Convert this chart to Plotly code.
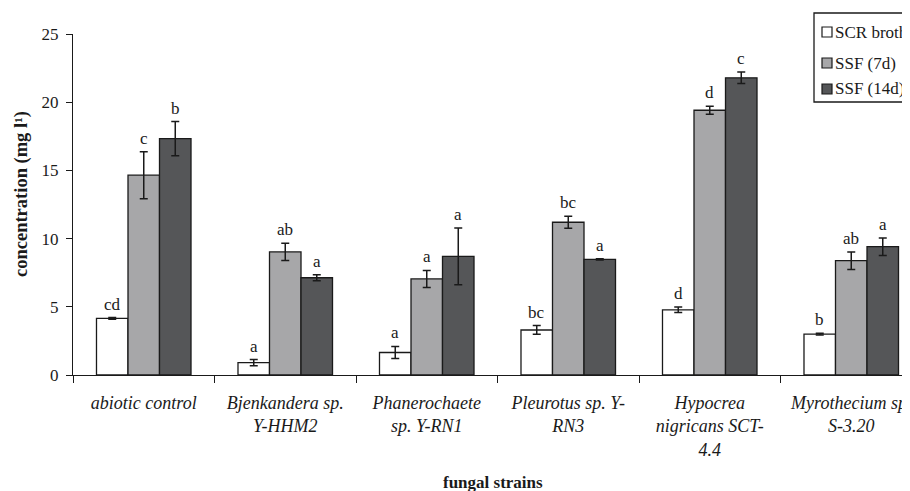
import plotly.graph_objects as go

categories = ["<i>abiotic control</i>", "<i>Bjenkandera sp.<br>Y-HHM2</i>", "<i>Phanerochaete<br>sp. Y-RN1</i>",
              "<i>Pleurotus sp. Y-<br>RN3</i>", "<i>Hypocrea<br>nigricans SCT-<br>4.4</i>", "<i>Myrothecium sp.<br>S-3.20</i>"]
series_names = ["SCR broth", "SSF (7d)", "SSF (14d)"]
scr_vals = [4.15, 0.9, 1.65, 3.3, 4.78, 3.0]
scr_err = [0.06, 0.23, 0.44, 0.32, 0.2, 0.06]
ssf7_vals = [14.65, 9.02, 7.04, 11.2, 19.41, 8.38]
ssf7_err = [1.72, 0.63, 0.63, 0.44, 0.3, 0.64]
ssf14_vals = [17.33, 7.13, 8.7, 8.48, 21.79, 9.41]
ssf14_err = [1.25, 0.22, 2.08, 0.05, 0.42, 0.64]
scr_letters = ["cd", "a", "a", "bc", "d", "b"]
ssf7_letters = ["c", "ab", "a", "bc", "d", "ab"]
ssf14_letters = ["b", "a", "a", "a", "c", "a"]
colors = ["#ffffff", "#a7a7a9", "#555658"]

FONT = "Liberation Serif"
INK = "#1a1a1a"
W, H = 910, 491
ML, MR, MT, MB = 65, 0, 26, 124
PW, PH = W - ML - MR, H - MT - MB


def px(x):  # figure pixel -> paper x
    return (x - ML) / PW


def py(y):  # figure pixel -> paper y
    return (H - MB - y) / PH


fig = go.Figure()
all_vals = [scr_vals, ssf7_vals, ssf14_vals]
all_errs = [scr_err, ssf7_err, ssf14_err]
all_letters = [scr_letters, ssf7_letters, ssf14_letters]
for name, vals, errs, col in zip(series_names, all_vals, all_errs, colors):
    fig.add_trace(go.Bar(
        x=categories, y=vals, name=name, showlegend=False,
        marker=dict(color=col, line=dict(color=INK, width=1.3)),
        error_y=dict(type="data", array=errs, visible=True, color=INK, thickness=1.5, width=4),
    ))

bar_px = 31.5
annotations = []
for k, (vals, errs, lets) in enumerate(zip(all_vals, all_errs, all_letters)):
    for i, cat in enumerate(categories):
        annotations.append(dict(
            x=cat, y=vals[i] + errs[i], xref="x", yref="y", text=lets[i],
            showarrow=False, yanchor="bottom", xshift=(k - 1) * bar_px, yshift=2,
            font=dict(family=FONT, size=17, color=INK),
        ))

annotations.append(dict(
    x=px(485), y=py(474), xref="paper", yref="paper", xanchor="center", yanchor="middle",
    text="<b>fungal strains</b>", showarrow=False,
    font=dict(family=FONT, size=17, color=INK),
))
annotations.append(dict(
    x=px(13), y=py(186), xref="paper", yref="paper", xanchor="center", yanchor="middle",
    text="<b>concentration (mg l¹)</b>", showarrow=False, textangle=-90,
    font=dict(family=FONT, size=18.5, color=INK),
))

# legend drawn as a box with swatches
shapes = [dict(type="rect", xref="paper", yref="paper",
               x0=px(806), x1=px(960), y0=py(94), y1=py(5),
               line=dict(color=INK, width=1.3), fillcolor="white", layer="above")]
leg_y = [24, 55, 81]
for name, col, yc in zip(series_names, colors, leg_y):
    shapes.append(dict(type="rect", xref="paper", yref="paper",
                       x0=px(814), x1=px(824), y0=py(yc + 5), y1=py(yc - 5),
                       line=dict(color=INK, width=1.2), fillcolor=col, layer="above"))
    annotations.append(dict(
        x=px(825), y=py(yc), xref="paper", yref="paper", xanchor="left", yanchor="middle",
        text=name, showarrow=False, font=dict(family=FONT, size=17, color=INK),
    ))

fig.update_layout(
    width=W, height=H,
    margin=dict(l=ML, r=MR, t=MT, b=MB, autoexpand=False),
    paper_bgcolor="white", plot_bgcolor="white",
    barmode="group", bargap=0.332, bargroupgap=0,
    font=dict(family=FONT, size=17, color=INK),
    annotations=annotations, shapes=shapes,
    showlegend=False,
    xaxis=dict(
        type="category", range=[-0.5, -0.5 + PW / 141.5], automargin=False,
        showline=True, linecolor=INK, linewidth=1.3,
        ticks="outside", tickson="boundaries", ticklen=7, tickcolor=INK,
        tickfont=dict(family=FONT, size=18, color=INK), ticklabelstandoff=11,
        showgrid=False,
    ),
    yaxis=dict(
        range=[0, 25], tickvals=[0, 5, 10, 15, 20, 25], automargin=False,
        showline=True, linecolor=INK, linewidth=1.3,
        ticks="outside", ticklen=6, tickcolor=INK,
        tickfont=dict(family=FONT, size=17, color=INK), ticklabelstandoff=4,
        showgrid=False, zeroline=False,
    ),
)

fig.write_html("out.html")
